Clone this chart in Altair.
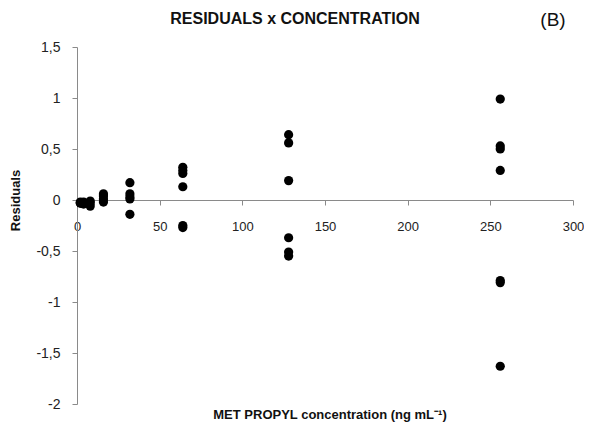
import altair as alt
import pandas as pd

# concentrations (ng/mL) and residuals
conc = [2, 2, 2,
        4, 4, 4,
        8, 8, 8,
        16, 16, 16, 16,
        32, 32, 32, 32, 32,
        64, 64, 64, 64, 64, 64,
        128, 128, 128, 128, 128, 128,
        256, 256, 256, 256, 256, 256, 256]
resid = [-0.02, -0.03, -0.03,
         -0.03, -0.04, -0.02,
         -0.06, -0.03, -0.01,
         0.06, 0.04, 0.01, -0.02,
         0.17, 0.06, 0.03, 0.01, -0.14,
         0.32, 0.29, 0.26, 0.13, -0.25, -0.27,
         0.64, 0.56, 0.19, -0.37, -0.51, -0.55,
         0.99, 0.53, 0.50, 0.29, -0.79, -0.81, -1.63]

x_ticks = [0, 50, 100, 150, 200, 250, 300]
y_ticks = [-2, -1.5, -1, -0.5, 0, 0.5, 1, 1.5]

title_text = "RESIDUALS x CONCENTRATION"
panel_text = "(B)"
x_title = "MET PROPYL concentration (ng mL⁻¹)"
y_title = "Residuals"

W, H = 496, 357
FONT = "Liberation Sans"

df = pd.DataFrame({"conc": conc, "resid": resid})

points = alt.Chart(df).mark_circle(size=85, color="black", opacity=1).encode(
    x=alt.X("conc:Q",
            scale=alt.Scale(domain=[0, 300], nice=False, zero=False),
            axis=alt.Axis(values=x_ticks, title=None, grid=False,
                          offset=-204, domainColor="#8a8a8a", tickColor="#8a8a8a",
                          tickSize=5, labelPadding=15, labelFont=FONT,
                          labelFontSize=13, labelColor="#222222",
                          labelFlush=False)),
    y=alt.Y("resid:Q",
            scale=alt.Scale(domain=[-2, 1.5], nice=False, zero=False),
            axis=alt.Axis(values=y_ticks, title=y_title, grid=False,
                          labelExpr="replace(toString(datum.value), '.', ',')",
                          domainColor="#8a8a8a", tickColor="#8a8a8a",
                          tickSize=5, labelPadding=12, labelFont=FONT,
                          labelFontSize=14, labelColor="#222222",
                          titleFont=FONT, titleFontSize=13, titleFontWeight="bold",
                          titleColor="#111111", titleX=-55, titleY=153,
                          titleAlign="center", titleBaseline="bottom",
                          labelFlush=False)),
)

title_layer = alt.Chart(pd.DataFrame({"t": [title_text]})).mark_text(
    font=FONT, fontSize=16, fontWeight="bold", color="#111111",
    align="center", baseline="alphabetic"
).encode(x=alt.value(218), y=alt.value(-23), text="t:N")

panel_layer = alt.Chart(pd.DataFrame({"t": [panel_text]})).mark_text(
    font=FONT, fontSize=19, color="#111111", align="center", baseline="alphabetic"
).encode(x=alt.value(476), y=alt.value(-21), text="t:N")

xtitle_layer = alt.Chart(pd.DataFrame({"t": [x_title]})).mark_text(
    font=FONT, fontSize=13, fontWeight="bold", color="#111111",
    align="center", baseline="middle"
).encode(x=alt.value(253), y=alt.value(368), text="t:N")

chart = alt.layer(points, title_layer, panel_layer, xtitle_layer).properties(
    width=W, height=H,
    autosize=alt.AutoSizeParams(type="none"),
    padding={"left": 69, "top": 39, "right": 11, "bottom": 20},
    background="white",
).configure_view(stroke=None)

chart.save("out.html", embed_options={"renderer": "svg", "actions": False})
